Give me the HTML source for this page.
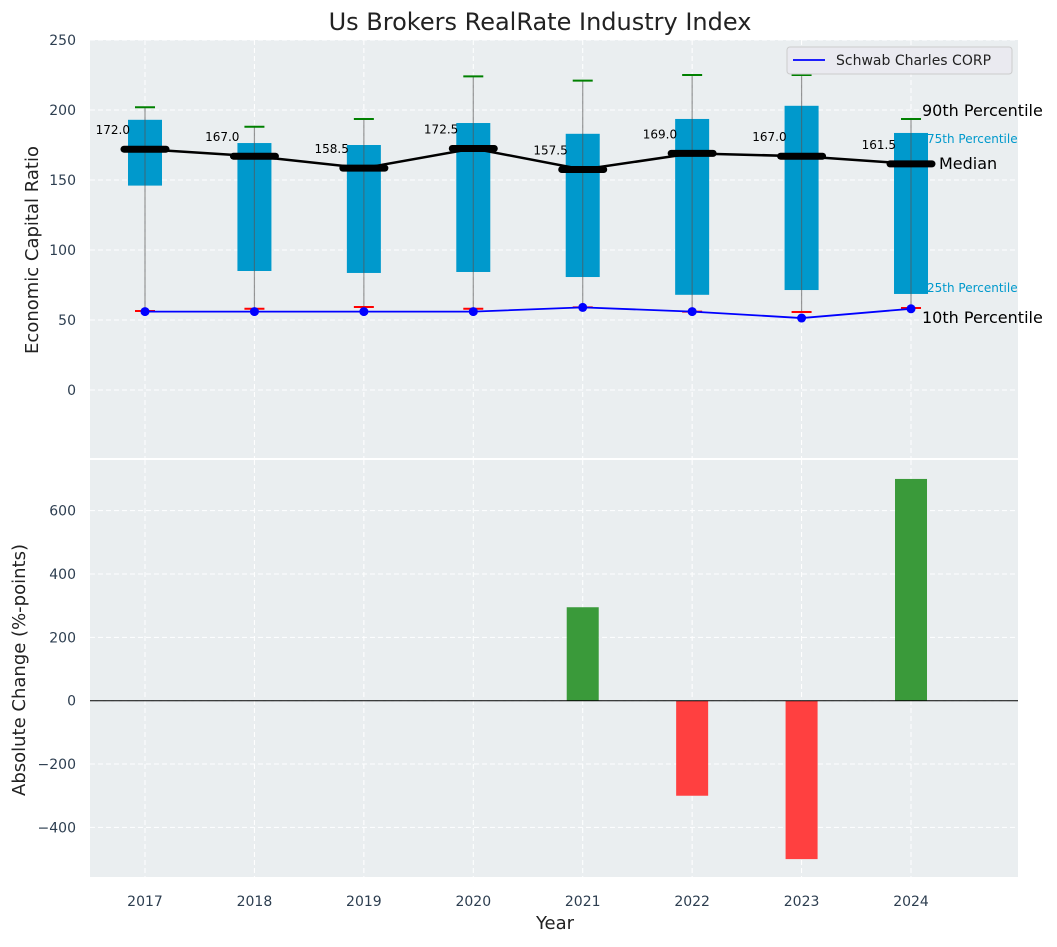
<!DOCTYPE html>
<html><head><meta charset="utf-8"><style>
body{margin:0;background:#fff}
svg text{font-family:"DejaVu Sans","Liberation Sans",sans-serif}
</style></head><body>
<svg id="c" width="1057" height="942" xmlns="http://www.w3.org/2000/svg"></svg>
<script>
const years=[2017,2018,2019,2020,2021,2022,2023,2024];
const p90=[202,188,193.6,224,221,225,225,193.6];
const q75=[193,176.4,175,190.7,183,193.6,203,183.6];
const median=[172.0,167.0,158.5,172.5,157.5,169.0,167.0,161.5];
const q25=[146,85,83.6,84.3,80.7,68,71.4,68.6];
const p10=[56.4,58,59.3,58,59,56,55.7,58.6];
const company=[56,56,56,56,59,56,51.4,58];
const changes=[0,0,0,0,295,-300,-500,700];
const topTicks=[0,50,100,150,200,250];
const botTicks=[-400,-200,0,200,400,600];

const NS="http://www.w3.org/2000/svg";
const svg=document.getElementById('c');
function el(t,a,p){const e=document.createElementNS(NS,t);for(const k in a)e.setAttribute(k,a[k]);(p||svg).appendChild(e);return e;}
const X=v=>145+(v-2017)*109.43;
const YT=v=>390-v*1.4;
const YB=v=>700.7-v*0.3168;

let e=el('rect',{x:90,y:40,width:928,height:418,fill:'#eaeef0'});

e=el('rect',{x:90,y:460,width:928,height:417,fill:'#eaeef0'});


years.forEach(y=>{
 el('line',{x1:X(y),x2:X(y),y1:40,y2:458,stroke:'#fff','stroke-dasharray':'5,3','stroke-width':1});
 el('line',{x1:X(y),x2:X(y),y1:460,y2:877,stroke:'#fff','stroke-dasharray':'5,3','stroke-width':1});
 e=el('text',{x:X(y),y:906,'font-size':14,fill:'#2d3e50','text-anchor':'middle'});e.textContent=y;
 
});
topTicks.forEach(t=>{
 el('line',{x1:90,x2:1018,y1:YT(t),y2:YT(t),stroke:'#fff','stroke-dasharray':'5,3'});
 e=el('text',{x:76,y:YT(t)+5,'font-size':14,fill:'#2d3e50','text-anchor':'end'});e.textContent=t;
 
});
botTicks.forEach(t=>{
 el('line',{x1:90,x2:1018,y1:YB(t),y2:YB(t),stroke:'#fff','stroke-dasharray':'5,3'});
 e=el('text',{x:76,y:YB(t)+5,'font-size':14,fill:'#2d3e50','text-anchor':'end'});e.textContent=(t<0?'\u2212'+(-t):t);
 
});

years.forEach((y,i)=>{
 const x=X(y);
 e=el('rect',{x:x-17,y:YT(q75[i]),width:34,height:YT(q25[i])-YT(q75[i]),fill:'#0099cc'});
 
 e=el('line',{x1:x,x2:x,y1:YT(p90[i]),y2:YT(p10[i]),stroke:'#555','stroke-opacity':0.6,'stroke-width':1.2});
 
 e=el('line',{x1:x-10,x2:x+10,y1:YT(p90[i]),y2:YT(p90[i]),stroke:'green','stroke-width':2});
 
 e=el('line',{x1:x-10,x2:x+10,y1:YT(p10[i]),y2:YT(p10[i]),stroke:'red','stroke-width':2});
 
});
e=el('polyline',{points:years.map((y,i)=>X(y)+','+YT(median[i])).join(' '),fill:'none',stroke:'#000','stroke-width':2.5});

years.forEach((y,i)=>{
 const x=X(y);
 e=el('line',{x1:x-21,x2:x+21,y1:YT(median[i]),y2:YT(median[i]),stroke:'#000','stroke-width':7,'stroke-linecap':'round'});
 
 e=el('text',{x:x-15,y:YT(median[i])-15,'font-size':12,fill:'#000','text-anchor':'end'});e.textContent=median[i].toFixed(1);
 
});
e=el('polyline',{points:years.map((y,i)=>X(y)+','+YT(company[i])).join(' '),fill:'none',stroke:'#0000ff','stroke-width':1.8});

years.forEach((y,i)=>{
 e=el('circle',{cx:X(y),cy:YT(company[i]),r:4.5,fill:'#0000ff'});
 
});
const ann=[['90th Percentile',922,116,16,'#000'],['75th Percentile',927,143,12,'#0099cc'],['Median',939,169,16,'#000'],['25th Percentile',927,292,12,'#0099cc'],['10th Percentile',922,323,16,'#000']];
ann.forEach(a=>{e=el('text',{x:a[1],y:a[2],'font-size':a[3],fill:a[4]});e.textContent=a[0];
 });

const lg=el('g',{});
el('rect',{x:787,y:47,width:225,height:27,rx:3,fill:'#eaeaf0',stroke:'#ccc'},lg);
el('line',{x1:793,x2:825,y1:60,y2:60,stroke:'#0000ff','stroke-width':1.8},lg);
e=el('text',{x:836,y:65,'font-size':14,fill:'#222'},lg);e.textContent='Schwab Charles CORP';

years.forEach((y,i)=>{
 if(changes[i]===0)return;
 const y0=YB(0),y1=YB(changes[i]);
 e=el('rect',{x:X(y)-16,y:Math.min(y0,y1),width:32,height:Math.abs(y1-y0),fill:changes[i]>0?'#3a9a3a':'#ff4040'});
 
});
e=el('line',{x1:90,x2:1018,y1:YB(0),y2:YB(0),stroke:'#000','stroke-width':1});


e=el('text',{x:540,y:30,'font-size':24,fill:'#222','text-anchor':'middle'});e.textContent='Us Brokers RealRate Industry Index';

e=el('text',{x:555,y:929,'font-size':18,fill:'#222','text-anchor':'middle'});e.textContent='Year';

e=el('text',{x:0,y:0,'font-size':18,fill:'#222','text-anchor':'middle',transform:'translate(38,250) rotate(-90)'});e.textContent='Economic Capital Ratio';

e=el('text',{x:0,y:0,'font-size':18,fill:'#222','text-anchor':'middle',transform:'translate(25,670) rotate(-90)'});e.textContent='Absolute Change (%-points)';

</script>
</body></html>
